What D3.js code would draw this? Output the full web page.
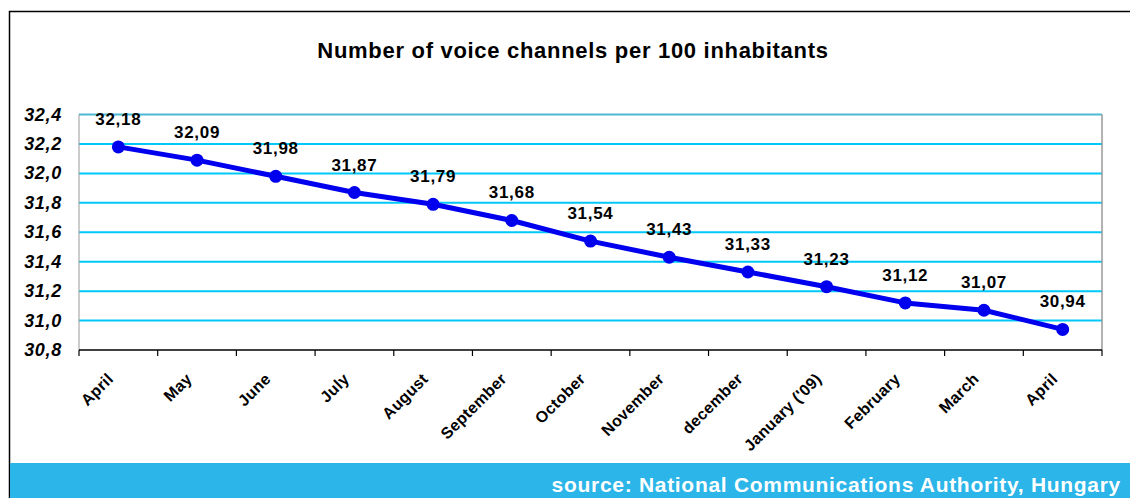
<!DOCTYPE html>
<html>
<head>
<meta charset="utf-8">
<script src="https://cdn.jsdelivr.net/npm/d3@7"></script>
<style>
  body { margin: 0; background: #fff; }
  svg { display: block; font-family: Arial, "Liberation Sans", sans-serif; }
</style>
</head>
<body>
<svg id="chart" width="1130" height="498"></svg>
<script>
// chart data
const months = ['April', 'May', 'June', 'July', 'August', 'September', 'October',
  'November', 'december', "January ('09)", 'February', 'March', 'April'];
const channels = [32.18, 32.09, 31.98, 31.87, 31.79, 31.68, 31.54,
  31.43, 31.33, 31.23, 31.12, 31.07, 30.94];
const yTicks = [30.8, 31.0, 31.2, 31.4, 31.6, 31.8, 32.0, 32.2, 32.4];

const title = 'Number of voice channels per 100 inhabitants';
const source = 'source: National Communications Authority, Hungary';

const svg = d3.select('#chart');
const plot = {left: 79, right: 1102, top: 114.5, bottom: 350};
const comma = v => d3.format('.2f')(v).replace('.', ',');

// outer frame (top + left only, like the original crop)
svg.append('path')
  .attr('d', 'M9.5,498V11.5H1130')
  .attr('fill', 'none')
  .attr('stroke', '#000')
  .attr('stroke-width', 1.5);

svg.append('text')
  .attr('x', 573).attr('y', 58)
  .attr('text-anchor', 'middle')
  .attr('font-size', 22).attr('font-weight', 'bold')
  .attr('letter-spacing', 0.7)
  .text(title);

// band index -> x, points sit in the middle of each slot
const x = d3.scaleBand().domain(d3.range(months.length))
  .range([plot.left, plot.right]);
const y = d3.scaleLinear().domain([30.8, 32.4]).range([plot.bottom, plot.top]);

// grid lines
svg.append('g').selectAll('line')
  .data(yTicks.slice(1))
  .join('line')
  .attr('x1', plot.left).attr('x2', plot.right)
  .attr('y1', d => y(d)).attr('y2', d => y(d))
  .attr('stroke', (d, i, n) => i === n.length - 1 ? '#4cb9d4' : '#00c8f8')
  .attr('stroke-width', 2);

// plot side borders
svg.append('line')
  .attr('x1', plot.left).attr('x2', plot.left)
  .attr('y1', plot.top).attr('y2', plot.bottom)
  .attr('stroke', '#999').attr('stroke-width', 1);
svg.append('line')
  .attr('x1', plot.right).attr('x2', plot.right)
  .attr('y1', plot.top).attr('y2', plot.bottom)
  .attr('stroke', '#999').attr('stroke-width', 1.5);

// y axis labels
svg.append('g').selectAll('text')
  .data(yTicks)
  .join('text')
  .attr('x', 62).attr('y', d => y(d) + 6)
  .attr('text-anchor', 'end')
  .attr('font-size', 18).attr('font-weight', 'bold').attr('font-style', 'italic')
  .attr('letter-spacing', 0.7)
  .text(d => d.toFixed(1).replace('.', ','));

// x axis with ticks on band edges
const xAxis = svg.append('g').attr('transform', `translate(0,${plot.bottom})`);
xAxis.append('line')
  .attr('x1', plot.left).attr('x2', plot.right)
  .attr('stroke', '#000').attr('stroke-width', 1.5);
xAxis.selectAll('.tick')
  .data(d3.range(months.length + 1))
  .join('line')
  .attr('class', 'tick')
  .attr('x1', i => plot.left + i * x.step()).attr('x2', i => plot.left + i * x.step())
  .attr('y1', 0).attr('y2', 6)
  .attr('stroke', '#000').attr('stroke-width', 1.2);

svg.append('g').selectAll('text')
  .data(months)
  .join('text')
  .attr('transform', (d, i) => `translate(${x(i) + x.bandwidth() / 2 - 12},${plot.bottom + 22}) rotate(-45)`)
  .attr('text-anchor', 'end')
  .attr('dy', '0.7em')
  .attr('font-size', 16).attr('font-weight', 'bold')
  .attr('letter-spacing', 0.3)
  .text(d => d);

// series line
const cx = i => x(i) + x.bandwidth() / 2;
svg.append('path')
  .datum(channels)
  .attr('d', d3.line().x((d, i) => cx(i)).y(d => y(d)))
  .attr('fill', 'none')
  .attr('stroke', '#0000ee')
  .attr('stroke-width', 5)
  .attr('stroke-linejoin', 'round');

svg.append('g').selectAll('circle')
  .data(channels)
  .join('circle')
  .attr('cx', (d, i) => cx(i)).attr('cy', d => y(d))
  .attr('r', 6.5)
  .attr('fill', '#0000ee');

// value labels
svg.append('g').selectAll('text')
  .data(channels)
  .join('text')
  .attr('x', (d, i) => cx(i)).attr('y', d => y(d) - 22)
  .attr('text-anchor', 'middle')
  .attr('font-size', 17).attr('font-weight', 'bold')
  .attr('letter-spacing', 0.7)
  .text(comma);

// source band
svg.append('rect')
  .attr('x', 10).attr('y', 463)
  .attr('width', 1120).attr('height', 35)
  .attr('fill', '#2bb5e8');
svg.append('text')
  .attr('x', 1121).attr('y', 492)
  .attr('text-anchor', 'end')
  .attr('font-size', 21).attr('font-weight', 'bold')
  .attr('letter-spacing', 0.7)
  .attr('fill', '#fff')
  .text(source);
</script>
</body>
</html>
